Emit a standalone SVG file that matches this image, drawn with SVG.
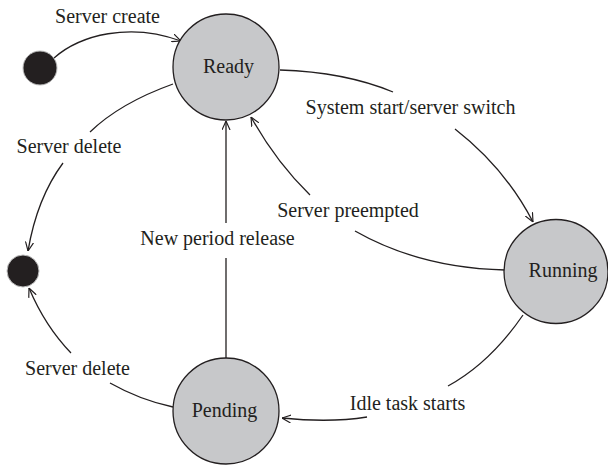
<svg xmlns="http://www.w3.org/2000/svg" width="608" height="469" viewBox="0 0 608 469">
  <defs>
    <marker id="arrow" viewBox="0 0 10 10" refX="10" refY="5" markerWidth="9" markerHeight="9" markerUnits="userSpaceOnUse" orient="auto">
      <path d="M0,0.5 L10,5 L0,9.5" fill="none" stroke="#231f20" stroke-width="1.3"/>
    </marker>
  </defs>
  <style>
    .state { fill: #c7c8ca; stroke: #231f20; stroke-width: 1.3; }
    .pseudo { fill: #231f20; stroke: #bdbdbd; stroke-width: 1; }
    .edge { fill: none; stroke: #231f20; stroke-width: 1.3; }
    .head { marker-end: url(#arrow); }
    text { font-family: "Liberation Serif", "Times New Roman", serif; font-size: 20px; fill: #231f20; text-anchor: middle; }
  </style>
  <rect width="608" height="469" fill="#ffffff"/>

  <!-- transitions -->
  <g id="connectors">
    <!-- server create -->
    <path class="edge head" d="M54,58 C80,35 130,22 181,41"/>
    <!-- ready -> final (server delete) -->
    <path class="edge" d="M173,84 Q120,103 90,132"/>
    <path class="edge head" d="M63,163 Q37,198 28,251"/>
    <!-- ready -> running -->
    <path class="edge" d="M280,70 Q345,72 393,92"/>
    <path class="edge head" d="M455,129 Q505,168 533,222"/>
    <!-- running -> ready (preempted) -->
    <path class="edge" d="M505,270 Q420,268 355,231"/>
    <path class="edge head" d="M310,195 Q276,162 251,117"/>
    <!-- pending -> ready -->
    <path class="edge" d="M226,358 L226,258"/>
    <path class="edge head" d="M226,223 L226,121"/>
    <!-- running -> pending -->
    <path class="edge" d="M523,315 Q490,363 448,386"/>
    <path class="edge head" d="M367,417 Q330,423 282,418"/>
    <!-- pending -> final (server delete) -->
    <path class="edge" d="M173,407 Q140,400 110,383"/>
    <path class="edge head" d="M71,353 Q45,326 29,288"/>
  </g>

  <g id="labels">
    <text x="107.5" y="23">Server create</text>
    <text x="410.5" y="114">System start/server switch</text>
    <text x="69" y="153">Server delete</text>
    <text x="348" y="217">Server preempted</text>
    <text x="217.5" y="245">New period release</text>
    <text x="77.5" y="375">Server delete</text>
    <text x="407.5" y="410">Idle task starts</text>
  </g>

  <g id="initial">
    <circle class="pseudo" cx="40" cy="68" r="17"/>
  </g>
  <g id="final">
    <circle class="pseudo" cx="23" cy="271" r="16"/>
  </g>
  <g id="ready">
    <circle class="state" cx="226" cy="67" r="53"/>
    <text x="228.5" y="73">Ready</text>
  </g>
  <g id="running">
    <circle class="state" cx="556" cy="271.5" r="52"/>
    <text x="563" y="277">Running</text>
  </g>
  <g id="pending">
    <circle class="state" cx="226" cy="411" r="53"/>
    <text x="224.5" y="417">Pending</text>
  </g>
</svg>
